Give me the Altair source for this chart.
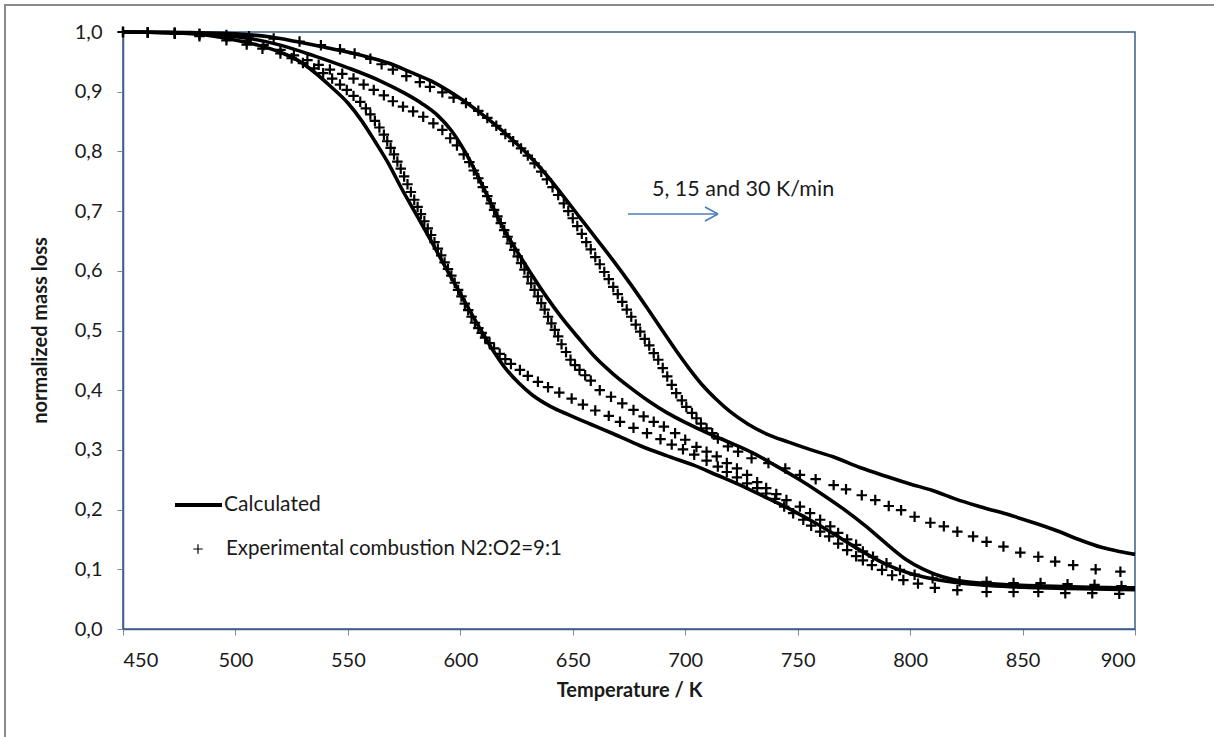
import altair as alt
import pandas as pd

# ---------------- data ----------------
# Calculated curves (T in K, normalized mass)
calc_A_T = [450, 470, 485, 498, 510, 520, 528, 535, 542, 550, 556, 562, 568, 574, 580, 587, 594, 601, 608, 614, 620, 626, 632, 640, 648, 658, 668, 680, 692, 704, 714, 724, 736, 748, 760, 770, 780, 790, 800, 810, 822, 835, 850, 870, 900]
calc_A_m = [1.000, 0.999, 0.996, 0.988, 0.978, 0.966, 0.952, 0.933, 0.910, 0.881, 0.852, 0.817, 0.780, 0.737, 0.697, 0.650, 0.602, 0.555, 0.508, 0.470, 0.437, 0.412, 0.392, 0.373, 0.359, 0.343, 0.327, 0.307, 0.290, 0.274, 0.258, 0.242, 0.220, 0.198, 0.173, 0.150, 0.127, 0.107, 0.093, 0.084, 0.077, 0.073, 0.070, 0.068, 0.066]

calc_B_T = [450, 470, 490, 505, 520, 535, 550, 565, 575, 583, 590, 596, 602, 608, 614, 620, 626, 632, 638, 645, 652, 660, 668, 676, 684, 692, 700, 710, 720, 730, 740, 750, 760, 770, 780, 790, 798, 806, 814, 825, 840, 860, 880, 900]
calc_B_m = [1.000, 0.999, 0.996, 0.990, 0.978, 0.960, 0.940, 0.917, 0.898, 0.880, 0.860, 0.835, 0.800, 0.757, 0.710, 0.665, 0.628, 0.592, 0.558, 0.522, 0.490, 0.455, 0.427, 0.403, 0.381, 0.362, 0.346, 0.328, 0.312, 0.295, 0.274, 0.252, 0.228, 0.202, 0.173, 0.141, 0.117, 0.100, 0.088, 0.079, 0.075, 0.072, 0.070, 0.069]

calc_C_T = [450, 480, 500, 515, 527, 540, 557, 568, 579, 587, 594, 601, 609, 616, 623, 630, 638, 645, 653, 660, 668, 676, 683, 690, 696, 702, 708, 714, 720, 728, 736, 746, 756, 766, 778, 790, 800, 810, 820, 832, 845, 855, 865, 875, 885, 893, 900]
calc_C_m = [1.000, 0.999, 0.997, 0.992, 0.984, 0.974, 0.960, 0.948, 0.931, 0.918, 0.903, 0.886, 0.864, 0.843, 0.820, 0.795, 0.762, 0.729, 0.690, 0.656, 0.617, 0.576, 0.538, 0.499, 0.466, 0.435, 0.407, 0.384, 0.364, 0.343, 0.327, 0.313, 0.300, 0.288, 0.270, 0.255, 0.243, 0.232, 0.218, 0.204, 0.190, 0.178, 0.165, 0.150, 0.137, 0.130, 0.125]

# Experimental points
exp_A_T = [450, 461, 473, 484, 496, 505, 512, 520, 525, 530, 535, 539, 543, 546.5, 549.5, 552.5, 555.5, 558, 560, 562, 564, 566, 567.5, 569, 570.5, 572, 573.5, 575, 576.5, 578, 579.5, 581, 582.5, 584, 585.5, 587, 588.5, 590, 591.5, 593, 594.5, 596, 597.5, 599, 600.5, 602, 603.5, 605, 606.5, 608, 609.5, 611, 613, 615, 617.5, 620, 622.5, 626.5, 630, 634.5, 639, 644, 649.5, 654.5, 660, 666, 671, 677, 683, 689, 694, 699, 704, 709.5, 714.5, 718.5, 723, 727.5, 732, 736, 740, 744, 748, 752.5, 756, 760, 764, 768, 772, 776, 779, 783, 787.5, 792, 797, 803.5, 811, 821, 834, 846, 857, 869, 881, 893]
exp_A_m = [1.000, 0.999, 0.997, 0.993, 0.986, 0.979, 0.972, 0.964, 0.956, 0.948, 0.939, 0.931, 0.922, 0.912, 0.903, 0.893, 0.883, 0.872, 0.862, 0.851, 0.840, 0.828, 0.817, 0.806, 0.795, 0.783, 0.771, 0.758, 0.745, 0.732, 0.719, 0.707, 0.695, 0.683, 0.671, 0.660, 0.648, 0.637, 0.626, 0.614, 0.603, 0.592, 0.580, 0.568, 0.557, 0.545, 0.534, 0.523, 0.513, 0.504, 0.496, 0.488, 0.479, 0.470, 0.461, 0.452, 0.444, 0.434, 0.424, 0.414, 0.405, 0.396, 0.386, 0.376, 0.366, 0.357, 0.347, 0.337, 0.328, 0.318, 0.309, 0.301, 0.292, 0.282, 0.272, 0.263, 0.254, 0.244, 0.236, 0.227, 0.218, 0.205, 0.194, 0.183, 0.173, 0.163, 0.155, 0.143, 0.132, 0.122, 0.115, 0.107, 0.099, 0.090, 0.082, 0.076, 0.069, 0.065, 0.062, 0.062, 0.062, 0.060, 0.060, 0.059]

exp_B_T = [450, 461, 473, 484, 496, 505, 512.5, 520, 526, 532, 537, 542, 547.5, 552.5, 557, 561.5, 566, 570, 574.5, 579, 583.5, 588, 592, 595.5, 598.5, 601.5, 604, 606, 608, 610, 612, 613.5, 615, 616.5, 618, 619.5, 621, 622.5, 624, 625.5, 627, 628.5, 630, 631.5, 633, 634.5, 636, 637.5, 639, 640.5, 642, 643.5, 645, 647, 649, 651, 653, 655.5, 658, 662, 667, 672, 677, 681.5, 686, 690.5, 695.5, 700, 705, 709.5, 714, 718.5, 723, 727.5, 732, 736, 740.5, 745, 751, 755.5, 760, 764.5, 768, 772, 776, 779, 783.5, 789.5, 795.5, 802, 810, 822, 834, 846, 858, 870, 882, 894]
exp_B_m = [1.000, 0.999, 0.998, 0.996, 0.991, 0.985, 0.978, 0.970, 0.961, 0.953, 0.945, 0.937, 0.930, 0.922, 0.912, 0.903, 0.894, 0.884, 0.875, 0.867, 0.858, 0.847, 0.836, 0.822, 0.810, 0.795, 0.782, 0.768, 0.755, 0.740, 0.725, 0.713, 0.702, 0.691, 0.680, 0.668, 0.657, 0.646, 0.635, 0.624, 0.613, 0.602, 0.590, 0.579, 0.568, 0.557, 0.546, 0.535, 0.523, 0.512, 0.501, 0.490, 0.477, 0.464, 0.451, 0.442, 0.434, 0.425, 0.416, 0.400, 0.389, 0.378, 0.367, 0.356, 0.347, 0.339, 0.328, 0.317, 0.305, 0.297, 0.289, 0.278, 0.269, 0.258, 0.246, 0.236, 0.226, 0.216, 0.205, 0.194, 0.183, 0.172, 0.161, 0.150, 0.141, 0.130, 0.121, 0.110, 0.099, 0.091, 0.085, 0.080, 0.079, 0.077, 0.077, 0.075, 0.074, 0.072]

exp_C_T = [450, 461, 473, 484, 496, 506, 517, 528.5, 538, 546.5, 553, 560, 565, 570, 576, 582, 586.5, 592, 597, 602.5, 608, 612, 616, 620, 623.5, 627, 630, 633, 636, 638.5, 641, 643.5, 646, 648, 650, 652, 654, 656, 658, 660, 662, 664, 666, 668, 670, 672, 674, 676, 678, 680, 682, 684, 686, 688, 690, 692, 694, 696, 698.5, 700.5, 703, 705, 707, 709.5, 712, 714.5, 719, 723.5, 729.5, 737, 744.5, 751, 758, 766, 771.5, 778.5, 784.5, 790.5, 796, 802, 809, 815, 821, 828, 834, 841.5, 849, 857, 864.5, 872.5, 882.5, 893.5]
exp_C_m = [1.000, 0.999, 0.999, 0.997, 0.995, 0.993, 0.989, 0.984, 0.978, 0.971, 0.964, 0.955, 0.946, 0.937, 0.926, 0.916, 0.908, 0.899, 0.890, 0.881, 0.868, 0.856, 0.843, 0.829, 0.817, 0.805, 0.793, 0.780, 0.766, 0.753, 0.740, 0.727, 0.713, 0.700, 0.688, 0.675, 0.662, 0.648, 0.636, 0.623, 0.611, 0.598, 0.586, 0.573, 0.561, 0.548, 0.535, 0.523, 0.510, 0.498, 0.486, 0.475, 0.462, 0.451, 0.437, 0.423, 0.409, 0.395, 0.383, 0.372, 0.362, 0.353, 0.344, 0.336, 0.328, 0.319, 0.306, 0.297, 0.286, 0.278, 0.269, 0.258, 0.251, 0.241, 0.234, 0.224, 0.216, 0.206, 0.199, 0.188, 0.178, 0.172, 0.163, 0.155, 0.146, 0.138, 0.128, 0.121, 0.113, 0.107, 0.100, 0.096]

x_ticks = [450, 500, 550, 600, 650, 700, 750, 800, 850, 900]
y_ticks = [0.0, 0.1, 0.2, 0.3, 0.4, 0.5, 0.6, 0.7, 0.8, 0.9, 1.0]

legend_labels = ["Calculated", "Experimental combustion N2:O2=9:1"]
annotation = "5, 15 and 30 K/min"

# ---------------- tables ----------------
calc = pd.concat([
    pd.DataFrame({"T": calc_A_T, "m": calc_A_m, "rate": "5"}),
    pd.DataFrame({"T": calc_B_T, "m": calc_B_m, "rate": "15"}),
    pd.DataFrame({"T": calc_C_T, "m": calc_C_m, "rate": "30"}),
])
exp = pd.concat([
    pd.DataFrame({"T": exp_A_T, "m": exp_A_m, "rate": "5"}),
    pd.DataFrame({"T": exp_B_T, "m": exp_B_m, "rate": "15"}),
    pd.DataFrame({"T": exp_C_T, "m": exp_C_m, "rate": "30"}),
])
one = pd.DataFrame({"a": [0]})

FONT = "Lato"
FRAME = "#3B5E8C"
TXT = "#1a1a1a"
PLUS = "M-1,0L1,0M0,-1L0,1"

xscale = alt.Scale(domain=[450, 900], nice=False, zero=False)
yscale = alt.Scale(domain=[0, 1], nice=False, zero=True)

x_enc = alt.X("T:Q", scale=xscale, axis=alt.Axis(
    values=x_ticks, title="Temperature / K", grid=False,
    labelFont=FONT, labelFontSize=20, labelColor=TXT, labelPadding=15,
    tickSize=6, tickColor="#888", domainColor=FRAME, domainWidth=1.5,
    titleFont=FONT, titleFontSize=20, titleFontWeight="bold", titleColor=TXT,
    titleX=506, titleY=61, titleBaseline="middle", titleAlign="center"))
y_enc = alt.Y("m:Q", scale=yscale, axis=alt.Axis(
    values=y_ticks, title="normalized mass loss", grid=False,
    labelExpr="replace(format(datum.value, '.1f'), '.', ',')",
    labelFont=FONT, labelFontSize=20, labelColor=TXT, labelPadding=15,
    tickSize=6, tickColor="#888", domainColor=FRAME, domainWidth=1.5,
    titleFont=FONT, titleFontSize=20, titleFontWeight="bold", titleColor=TXT,
    titleX=-83, titleY=298, titleAngle=270, titleBaseline="middle", titleAlign="center"))

lines = alt.Chart(calc).mark_line(color="black", strokeWidth=3.6, interpolate="monotone").encode(
    x=x_enc, y=y_enc, detail="rate:N")

points = alt.Chart(exp).mark_point(shape=PLUS, filled=False, color="black", strokeWidth=2.2, size=110, opacity=1).encode(
    x="T:Q", y="m:Q")

# outer chart border
border = alt.Chart(one).mark_rect(fill=None, stroke="#8a8a8a", strokeWidth=2).encode(
    x=alt.value(-118), x2=alt.value(1110), y=alt.value(-27), y2=alt.value(720))

# manual legend
leg_line = alt.Chart(one).mark_rule(color="black", strokeWidth=4).encode(
    x=alt.value(52), x2=alt.value(99), y=alt.value(473))
leg_plus = alt.Chart(one).mark_point(shape=PLUS, filled=False, color="black", strokeWidth=1.2, size=90, opacity=1).encode(
    x=alt.value(75), y=alt.value(517))
leg_t1 = alt.Chart(one).mark_text(align="left", baseline="middle", font=FONT, fontSize=21, color=TXT).encode(
    x=alt.value(101), y=alt.value(473), text=alt.value(legend_labels[0]))
leg_t2 = alt.Chart(one).mark_text(align="left", baseline="middle", font=FONT, fontSize=20.5, color=TXT).encode(
    x=alt.value(103), y=alt.value(517), text=alt.value(legend_labels[1]))

# annotation arrow
ARROW = "#4A7EBB"
arr_shaft = alt.Chart(one).mark_rule(color=ARROW, strokeWidth=1.5).encode(
    x=alt.value(505), x2=alt.value(595), y=alt.value(182))
arr_h1 = alt.Chart(one).mark_rule(color=ARROW, strokeWidth=1.5).encode(
    x=alt.value(582), x2=alt.value(595), y=alt.value(175), y2=alt.value(182))
arr_h2 = alt.Chart(one).mark_rule(color=ARROW, strokeWidth=1.5).encode(
    x=alt.value(582), x2=alt.value(595), y=alt.value(189), y2=alt.value(182))
arr_text = alt.Chart(one).mark_text(align="left", baseline="middle", font=FONT, fontSize=21.5, color=TXT).encode(
    x=alt.value(529), y=alt.value(158), text=alt.value(annotation))

chart = alt.layer(
    border, lines, points, leg_line, leg_plus, leg_t1, leg_t2,
    arr_shaft, arr_h1, arr_h2, arr_text
).properties(
    width=1012, height=597,
    padding={"left": 123, "top": 32, "right": 79, "bottom": 108},
    autosize=alt.AutoSizeParams(type="none"),
    background="white",
).configure_view(stroke=FRAME, strokeWidth=1.5)

chart.save("out.html", embed_options={"renderer": "svg", "actions": False})
